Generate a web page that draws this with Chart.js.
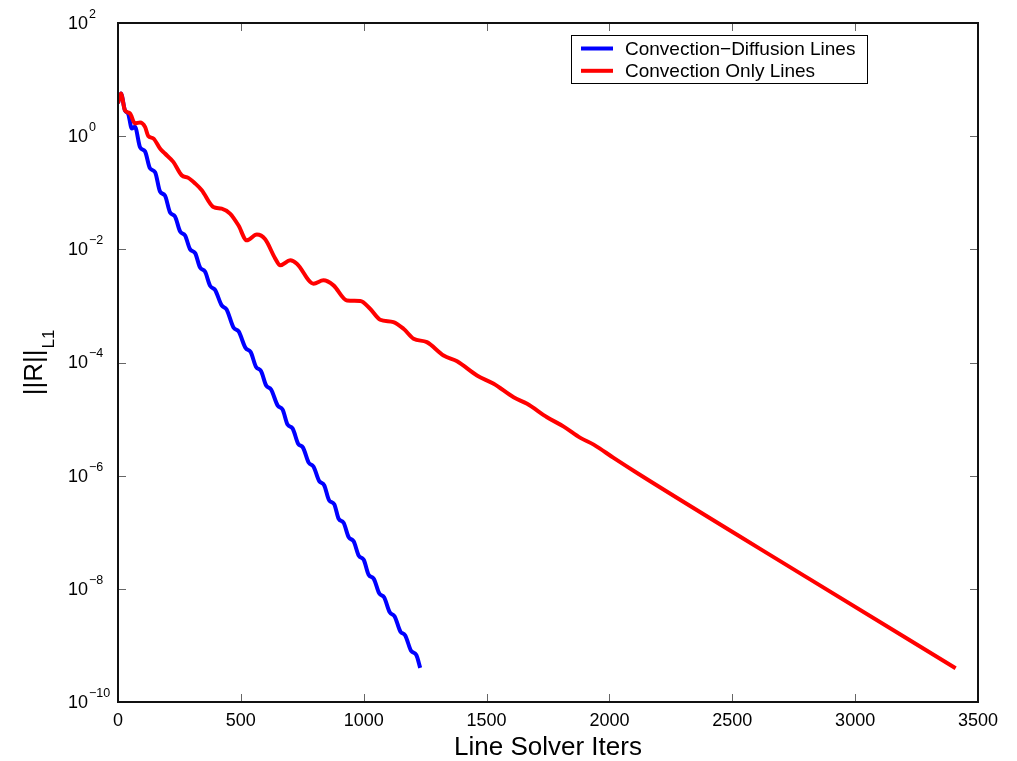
<!DOCTYPE html>
<html>
<head>
<meta charset="utf-8">
<title>Residual history</title>
<script src="https://cdn.jsdelivr.net/npm/chart.js@4.4.1/dist/chart.umd.min.js"></script>
<style>
html, body { margin: 0; padding: 0; background: #fff; }
canvas { display: block; }
</style>
</head>
<body>
<canvas id="plot" width="1017" height="761"></canvas>
<script>
// L1 norm of the residual against line solver iterations
var cdIters = [0, 12, 28, 42, 56, 69,
	90, 110, 130, 151, 171, 191, 212, 232, 253, 273, 293, 314, 334, 354,
	375, 395, 422, 442, 470, 491, 519, 540, 562, 582, 603, 623, 650, 670,
	690, 711, 733, 753, 776, 796, 819, 839, 859, 880, 898, 918, 939, 959,
	980, 1000, 1020, 1041, 1063, 1083, 1106, 1126, 1149, 1169, 1193, 1214, 1230];
var cdResid = [3.84, 5.70, 2.88, 2.45, 1.37, 1.46,
	0.634, 0.538, 0.271, 0.231, 0.105, 0.0892, 0.0448, 0.0381, 0.0206, 0.0175,
	0.0101, 0.00857, 0.00476, 0.00405, 0.00226, 0.00192, 0.00102, 8.67e-4,
	4.16e-4, 3.54e-4, 1.81e-4, 1.53e-4, 8.32e-5, 7.08e-5, 3.92e-5, 3.33e-5,
	1.73e-5, 1.47e-5, 8.0e-6, 6.79e-6, 3.68e-6, 3.13e-6, 1.70e-6, 1.44e-6,
	8.0e-7, 6.79e-7, 3.68e-7, 3.13e-7, 1.73e-7, 1.47e-7, 8.16e-8, 6.93e-8,
	3.84e-8, 3.26e-8, 1.77e-8, 1.50e-8, 8.32e-9, 7.08e-9, 3.84e-9, 3.26e-9,
	1.77e-9, 1.50e-9, 8.0e-10, 6.79e-10, 4.0e-10];

var coIters = [0, 12, 28, 49, 69, 90, 110, 123, 144, 171, 191, 225, 259, 286,
	314, 341, 388, 422, 456, 490, 524, 565, 599, 640, 660, 701, 728, 796, 836,
	877, 932, 986, 1026, 1067, 1121, 1162, 1203, 1257, 1325, 1380, 1461, 1529,
	1610, 1665, 1746, 1814, 1882, 1936, 2017, 2119, 2810, 3409];
var coResid = [3.84, 5.70, 2.88, 2.52, 1.68, 1.75, 1.46, 1.01, 0.91, 0.605,
	0.494, 0.351, 0.204, 0.183, 0.146, 0.111, 0.0561, 0.0525, 0.0428, 0.0266,
	0.0144, 0.0182, 0.0150, 0.00685, 0.00521, 0.00639, 0.00558, 0.00247,
	0.00283, 0.00231, 0.00125, 0.00122, 8.92e-4, 5.70e-4, 5.17e-4, 3.95e-4,
	2.63e-4, 2.29e-4, 1.33e-4, 1.05e-4, 5.89e-5, 4.20e-5, 2.43e-5, 1.86e-5,
	1.08e-5, 7.36e-6, 4.65e-6, 3.54e-6, 2.06e-6, 1.07e-6, 1.53e-8, 3.95e-10];

var seriesNames = ["Convection\u2212Diffusion Lines", "Convection Only Lines"];
var seriesColors = ["#0000ff", "#ff0000"];
var xTicks = [0, 500, 1000, 1500, 2000, 2500, 3000, 3500];
var yExps = [-10, -8, -6, -4, -2, 0, 2];
var xTitle = "Line Solver Iters";
var yTitle = "||R||";
var yTitleSub = "L1";

var FONT = "'Liberation Sans', Arial, Helvetica, sans-serif";

function pairs(xs, ys) {
	return xs.map(function (x, i) { return { x: x, y: ys[i] }; });
}

function expLabel(e) {
	return (e < 0 ? "\u2212" : "") + Math.abs(e);
}

// frame, inward ticks, log labels, axis titles and legend
var decorations = {
	id: "decorations",
	afterDraw: function (chart) {
		var ctx = chart.ctx, a = chart.chartArea;
		var sx = chart.scales.x, sy = chart.scales.y;
		var tl = 8;
		ctx.save();

		ctx.strokeStyle = "#666";
		ctx.lineWidth = 1;
		ctx.beginPath();
		xTicks.forEach(function (v) {
			var px = Math.round(sx.getPixelForValue(v)) + 0.5;
			ctx.moveTo(px, a.bottom); ctx.lineTo(px, a.bottom - tl);
			ctx.moveTo(px, a.top); ctx.lineTo(px, a.top + tl);
		});
		yExps.forEach(function (e) {
			var py = Math.round(sy.getPixelForValue(Math.pow(10, e))) + 0.5;
			ctx.moveTo(a.left, py); ctx.lineTo(a.left + tl, py);
			ctx.moveTo(a.right, py); ctx.lineTo(a.right - tl, py);
		});
		ctx.stroke();

		ctx.strokeStyle = "#111";
		ctx.lineWidth = 2;
		ctx.strokeRect(a.left, a.top, a.right - a.left, a.bottom - a.top);

		// y tick labels: 10 with a raised exponent
		ctx.fillStyle = "#000";
		ctx.textAlign = "left";
		ctx.textBaseline = "middle";
		yExps.forEach(function (e) {
			var py = sy.getPixelForValue(Math.pow(10, e));
			ctx.font = "18px " + FONT;
			ctx.fillText("10", 68, py + 1);
			var w = ctx.measureText("10").width;
			ctx.font = "12.5px " + FONT;
			ctx.fillText(expLabel(e), 68 + w + 1, py - 8.5);
		});

		// x axis title
		ctx.font = "26px " + FONT;
		ctx.textAlign = "center";
		ctx.textBaseline = "alphabetic";
		ctx.fillText(xTitle, (a.left + a.right) / 2, 755);

		// y axis title with subscript, rotated
		ctx.save();
		ctx.translate(42, (a.top + a.bottom) / 2);
		ctx.rotate(-Math.PI / 2);
		ctx.textAlign = "left";
		ctx.font = "26px " + FONT;
		var wm = ctx.measureText(yTitle).width;
		ctx.font = "17px " + FONT;
		var ws = ctx.measureText(yTitleSub).width;
		var x0 = -(wm + ws + 1) / 2;
		ctx.font = "26px " + FONT;
		ctx.fillText(yTitle, x0, 0);
		ctx.font = "17px " + FONT;
		ctx.fillText(yTitleSub, x0 + wm + 1, 12);
		ctx.restore();

		// legend
		var lx = 571.5, ly = 35.5, lw = 296, lh = 48;
		ctx.fillStyle = "#fff";
		ctx.fillRect(lx, ly, lw, lh);
		ctx.strokeStyle = "#000";
		ctx.lineWidth = 1;
		ctx.strokeRect(lx, ly, lw, lh);
		ctx.font = "19px " + FONT;
		ctx.textAlign = "left";
		ctx.textBaseline = "middle";
		seriesNames.forEach(function (name, i) {
			var y = 48.5 + i * 22.3;
			ctx.strokeStyle = seriesColors[i];
			ctx.lineWidth = 4;
			ctx.beginPath();
			ctx.moveTo(581, y); ctx.lineTo(613, y);
			ctx.stroke();
			ctx.fillStyle = "#000";
			ctx.fillText(name, 625, y + 1);
		});

		ctx.restore();
	}
};

new Chart(document.getElementById("plot"), {
	type: "line",
	data: {
		datasets: [{
			label: seriesNames[0],
			data: pairs(cdIters, cdResid),
			borderColor: seriesColors[0],
			borderWidth: 4,
			pointRadius: 0,
			cubicInterpolationMode: "monotone",
			fill: false,
			order: 1
		}, {
			label: seriesNames[1],
			data: pairs(coIters, coResid),
			borderColor: seriesColors[1],
			borderWidth: 4,
			pointRadius: 0,
			cubicInterpolationMode: "monotone",
			fill: false,
			order: 0
		}]
	},
	options: {
		responsive: false,
		animation: false,
		devicePixelRatio: 1,
		layout: { padding: { left: 0, right: 39, top: 23, bottom: 0 } },
		plugins: {
			legend: { display: false },
			tooltip: { enabled: false }
		},
		scales: {
			x: {
				type: "linear",
				min: 0,
				max: 3500,
				grid: { display: false, drawTicks: false },
				border: { display: false },
				ticks: {
					color: "#000",
					font: { family: FONT, size: 18 },
					padding: 8,
					maxRotation: 0,
					callback: function (v) { return String(v); }
				},
				afterBuildTicks: function (s) {
					s.ticks = xTicks.map(function (v) { return { value: v }; });
				},
				afterFit: function (s) { s.height = 59; }
			},
			y: {
				type: "logarithmic",
				min: 1e-10,
				max: 1e2,
				grid: { display: false, drawTicks: false },
				border: { display: false },
				ticks: { display: false },
				afterBuildTicks: function (s) {
					s.ticks = yExps.map(function (e) { return { value: Math.pow(10, e) }; });
				},
				afterFit: function (s) { s.width = 118; }
			}
		}
	},
	plugins: [decorations]
});
</script>
</body>
</html>
